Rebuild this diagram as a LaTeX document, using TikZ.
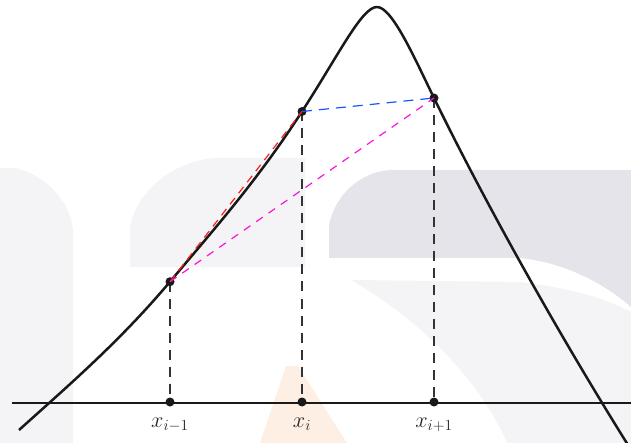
\documentclass[tikz,border=0pt]{standalone}
\begin{document}
\begin{tikzpicture}[x=1pt,y=-1pt,
  curveline/.style={line width=2.5pt, black!90, line join=round},
  axisline/.style={line width=2.2pt, black!90},
  dropline/.style={line width=1.2pt, black!80, dash pattern=on 10pt off 7pt},
  chordred/.style={line width=1.2pt, cred, dash pattern=on 8pt off 6pt},
  chordblue/.style={line width=1.2pt, cblue, dash pattern=on 10pt off 7pt},
  chordmag/.style={line width=1.2pt, cmag, dash pattern=on 8pt off 7pt},
  dot/.style={circle, fill=black!90, inner sep=0pt, minimum size=9pt},
  lab/.style={font=\huge, scale=1.07, anchor=base, text=black!85}
]
\definecolor{wmA}{HTML}{F4F4F7}
\definecolor{wmB}{HTML}{E4E4EA}
\definecolor{wmO}{HTML}{FDEFE3}
\definecolor{cred}{RGB}{250,30,30}
\definecolor{cblue}{RGB}{25,85,255}
\definecolor{cmag}{RGB}{250,20,220}
\useasboundingbox (0,0) rectangle (631,443);
% faint watermark
\fill[wmA] (0,168) -- (15,168) .. controls (45,175) and (70,200) .. (73,230) -- (73,443) -- (0,443) -- cycle;
\fill[wmA] (130,267) -- (130,225) .. controls (140,185) and (180,160) .. (215,158) -- (305,158) -- (305,267) -- cycle;
\fill[wmB] (329,258) -- (329,225) .. controls (335,195) and (360,172) .. (390,170) -- (631,170) -- (631,307) .. controls (600,280) and (560,262) .. (520,258) -- cycle;
\fill[wmA] (351,280) -- (520,282) .. controls (570,288) and (605,298) .. (631,312) -- (631,443) -- (507,443) .. controls (480,380) and (420,320) .. (351,280) -- cycle;
\fill[wmO] (286,366) -- (298,366) -- (347,443) -- (260,443) -- cycle;
% coordinates
\coordinate (A) at (170,402);
\coordinate (B) at (302,402);
\coordinate (C) at (434,402);
\coordinate (S) at (19,430);
\coordinate (P) at (170,281.7);
\coordinate (Q) at (302,111.5);
\coordinate (T) at (377,7);
\coordinate (R) at (434,98);
\coordinate (E) at (628,445);
\coordinate (axL) at (12,403);
\coordinate (axR) at (631,403);
% axis
\draw[axisline] (axL) -- (axR);
% curve
\draw[curveline] (S) .. controls (69,385) and (120,341.2) .. (P)
  .. controls (214,229.3) and (258,179.7) .. (Q)
  .. controls (340,52.6) and (362,7) .. (T)
  .. controls (392,7) and (414,57) .. (R)
  .. controls (489,210.75) and (563,341) .. (E);
% drop lines
\draw[dropline] (P) -- (A);
\draw[dropline] (Q) -- (B);
\draw[dropline] (R) -- (C);
% dots
\node[dot] (a) at (A) {};
\node[dot] (b) at (B) {};
\node[dot] (c) at (C) {};
\node[dot] (p) at (P) {};
\node[dot] (q) at (Q) {};
\node[dot] (r) at (R) {};
% chords
\draw[chordred] (p.center) -- (q.center);
\draw[chordblue] (q.center) -- (r.center);
\draw[chordmag] (p.center) -- (r.center);
% labels
\node[lab] (la) at (170,427) {$x_{i-1}$};
\node[lab] (lb) at (302,427) {$x_{i}$};
\node[lab] (lc) at (434,427) {$x_{i+1}$};
\end{tikzpicture}
\end{document}
